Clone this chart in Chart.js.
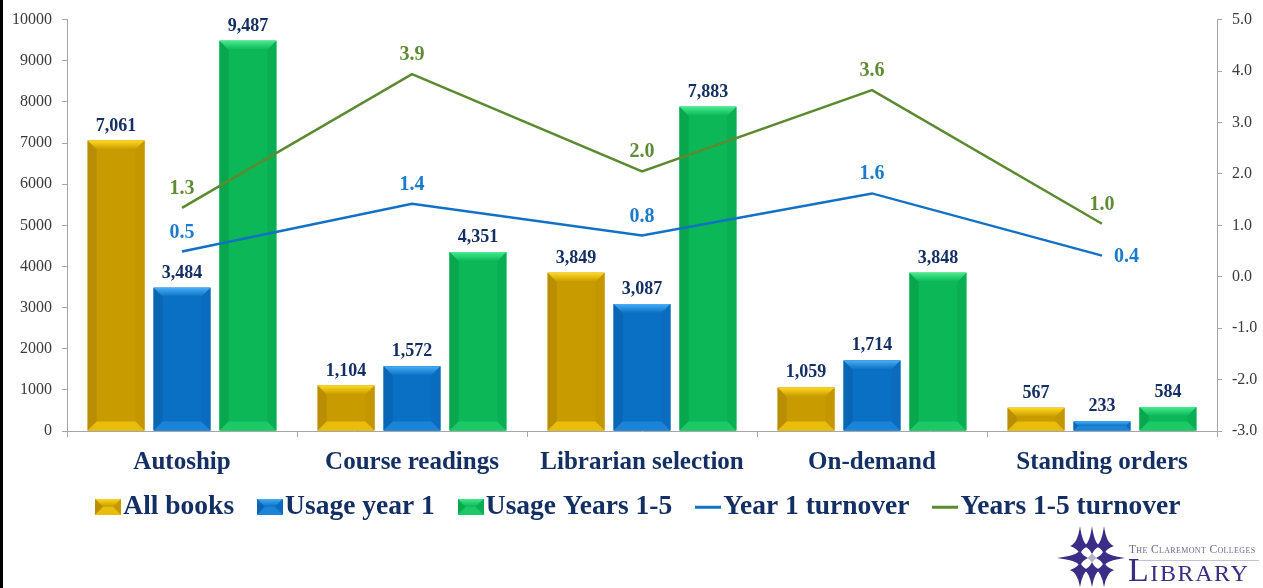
<!DOCTYPE html>
<html>
<head>
<meta charset="utf-8">
<script src="https://cdn.jsdelivr.net/npm/chart.js@4.4.1/dist/chart.umd.min.js"></script>
<style>
html,body{margin:0;padding:0;background:#fff;}
#wrap{position:relative;width:1263px;height:588px;overflow:hidden;background:#fff;}
#c{position:absolute;left:0;top:0;}
#leftbar{position:absolute;left:0;top:0;width:3px;height:588px;background:#000;}
#logo{position:absolute;left:1056px;top:525px;width:207px;height:63px;}
#logo svg{position:absolute;left:0;top:0;}
#logo .t1{position:absolute;left:73px;top:18px;font-family:'Liberation Serif',serif;font-size:11.5px;line-height:13px;font-variant:small-caps;color:#6E6A8A;letter-spacing:0.35px;white-space:nowrap;}
#logo .t2{position:absolute;left:72px;top:28px;font-family:'Liberation Serif',serif;font-size:34px;line-height:34px;font-variant:small-caps;color:#3B2C86;letter-spacing:1.6px;white-space:nowrap;}
#logo .rule{position:absolute;left:73px;top:35px;width:130px;height:1px;background:#C4C0D8;}
</style>
</head>
<body>
<div id="wrap">
  <canvas id="c" width="1263" height="588"></canvas>
  <div id="leftbar"></div>
  <div id="logo">
    <svg id="emblem" width="70" height="63" viewBox="0 0 70 63"></svg>
    <div class="t1">The Claremont Colleges</div>
    <div class="rule"></div>
    <div class="t2">Library</div>
  </div>
</div>
<script>
// ---------- DATA ----------
const categories = ['Autoship', 'Course readings', 'Librarian selection', 'On-demand', 'Standing orders'];
const seriesNames = ['All books', 'Usage year 1', 'Usage Years 1-5', 'Year 1 turnover', 'Years 1-5 turnover'];
const allBooks = [7061, 1104, 3849, 1059, 567];
const usageYear1 = [3484, 1572, 3087, 1714, 233];
const usageYears1to5 = [9487, 4351, 7883, 3848, 584];
const year1Turnover = [0.49, 1.42, 0.80, 1.62, 0.41];
const years1to5Turnover = [1.34, 3.94, 2.05, 3.63, 1.03];
const leftAxis = { min: 0, max: 10000, step: 1000 };
const rightAxis = { min: -3, max: 5, step: 1 };

// ---------- STYLE ----------
const FONT = "'Liberation Serif', 'DejaVu Serif', serif";
const NAVY = '#132F63';
const AXIS_GREY = '#A6A6A6';
const TICK_TEXT = '#3A3A3A';
const LEGEND_SIZE = 27.5;
const LEGEND_SHIFT = 12;
const palettes = {
  gold:  { main: '#C89B00', top: '#FFDA1F', bottom: '#E9BD0C', left: '#B98E04', right: '#C49700' },
  blue:  { main: '#0A70C4', top: '#48AEF4', bottom: '#1C84D6', left: '#0966B5', right: '#0B6CBF' },
  green: { main: '#0BB757', top: '#46EC90', bottom: '#1DC967', left: '#08A64D', right: '#0AAE53' }
};
const lineColors = { blue: '#1271C4', green: '#5B8A30' };
const lineLabelColors = { blue: '#1C7BCB', green: '#5E8B35' };

function drawBevel(ctx, l, t, r, b, pal, bev) {
  const h = b - t, w = r - l;
  const d = Math.max(0, Math.min(bev, h / 2, w / 2));
  ctx.save();
  ctx.fillStyle = pal.main;
  ctx.fillRect(l, t, w, h);
  ctx.fillStyle = pal.left;
  ctx.beginPath(); ctx.moveTo(l, t); ctx.lineTo(l + d, t + d); ctx.lineTo(l + d, b - d); ctx.lineTo(l, b); ctx.closePath(); ctx.fill();
  ctx.fillStyle = pal.right;
  ctx.beginPath(); ctx.moveTo(r, t); ctx.lineTo(r - d, t + d); ctx.lineTo(r - d, b - d); ctx.lineTo(r, b); ctx.closePath(); ctx.fill();
  ctx.fillStyle = pal.bottom;
  ctx.beginPath(); ctx.moveTo(l, b); ctx.lineTo(l + d, b - d); ctx.lineTo(r - d, b - d); ctx.lineTo(r, b); ctx.closePath(); ctx.fill();
  const g = ctx.createLinearGradient(0, t, 0, t + d);
  g.addColorStop(0, pal.top);
  g.addColorStop(1, pal.main);
  ctx.fillStyle = g;
  ctx.beginPath(); ctx.moveTo(l, t); ctx.lineTo(r, t); ctx.lineTo(r - d, t + d); ctx.lineTo(l + d, t + d); ctx.closePath(); ctx.fill();
  ctx.restore();
}

function barIcon(pal) {
  const c = document.createElement('canvas');
  c.width = 26; c.height = 16;
  drawBevel(c.getContext('2d'), 0, 0, 26, 16, pal, 8);
  return c;
}
function lineIcon(color) {
  const c = document.createElement('canvas');
  c.width = 26; c.height = 16;
  const g = c.getContext('2d');
  g.fillStyle = color;
  g.fillRect(0, 7, 26, 3);
  return c;
}
const legendIcons = [barIcon(palettes.gold), barIcon(palettes.blue), barIcon(palettes.green), lineIcon(lineColors.blue), lineIcon(lineColors.green)];

const bevelPlugin = {
  id: 'bevel',
  afterDatasetDraw(chart, args) {
    const ds = chart.data.datasets[args.index];
    if (ds.type !== 'bar') return;
    const meta = chart.getDatasetMeta(args.index);
    const ctx = chart.ctx;
    meta.data.forEach(el => {
      const p = el.getProps(['x', 'y', 'base', 'width'], true);
      const l = p.x - p.width / 2, r = p.x + p.width / 2;
      const t = Math.min(p.y, p.base), b = Math.max(p.y, p.base);
      drawBevel(ctx, l, t, r, b, ds.palette, 9);
    });
  }
};

const labelPlugin = {
  id: 'valueLabels',
  afterDatasetsDraw(chart) {
    const ctx = chart.ctx;
    chart.data.datasets.forEach((ds, i) => {
      const meta = chart.getDatasetMeta(i);
      meta.data.forEach((el, j) => {
        const v = ds.data[j];
        ctx.save();
        if (ds.type === 'bar') {
          ctx.font = `bold 18px ${FONT}`;
          ctx.fillStyle = NAVY;
          ctx.textAlign = 'center';
          ctx.textBaseline = 'alphabetic';
          ctx.fillText(v.toLocaleString('en-US'), el.x, el.y - 10);
        } else {
          ctx.font = `bold 20px ${FONT}`;
          ctx.fillStyle = ds.labelColor;
          const pos = (ds.labelPos && ds.labelPos[j]) || 'above';
          if (pos === 'right') {
            ctx.textAlign = 'left';
            ctx.textBaseline = 'middle';
            ctx.fillText(v.toFixed(1), el.x + 12, el.y + 1);
          } else {
            ctx.textAlign = 'center';
            ctx.textBaseline = 'alphabetic';
            ctx.fillText(v.toFixed(1), el.x, el.y - 14);
          }
        }
        ctx.restore();
      });
    });
  }
};

// nudge the legend row horizontally
const legendShiftPlugin = {
  id: 'legendShift',
  afterLayout(chart) {
    if (chart.legend) { chart.legend.left += LEGEND_SHIFT; chart.legend.right += LEGEND_SHIFT; }
  }
};

const barCommon = { type: 'bar', yAxisID: 'y', borderWidth: 0, categoryPercentage: 0.86, barPercentage: 0.86, order: 2 };
const lineCommon = { type: 'line', yAxisID: 'y2', borderWidth: 2.5, pointRadius: 0, pointHoverRadius: 0, tension: 0, fill: false, order: 1 };

new Chart(document.getElementById('c'), {
  data: {
    labels: categories,
    datasets: [
      Object.assign({}, barCommon, { label: seriesNames[0], data: allBooks, backgroundColor: palettes.gold.main, palette: palettes.gold }),
      Object.assign({}, barCommon, { label: seriesNames[1], data: usageYear1, backgroundColor: palettes.blue.main, palette: palettes.blue }),
      Object.assign({}, barCommon, { label: seriesNames[2], data: usageYears1to5, backgroundColor: palettes.green.main, palette: palettes.green }),
      Object.assign({}, lineCommon, { label: seriesNames[3], data: year1Turnover, borderColor: lineColors.blue, labelColor: lineLabelColors.blue, labelPos: ['above', 'above', 'above', 'above', 'right'] }),
      Object.assign({}, lineCommon, { label: seriesNames[4], data: years1to5Turnover, borderColor: lineColors.green, labelColor: lineLabelColors.green })
    ]
  },
  options: {
    responsive: false,
    animation: false,
    events: [],
    layout: { padding: { top: 16, left: 0, right: 0, bottom: 57.5 } },
    plugins: {
      tooltip: { enabled: false },
      legend: {
        position: 'bottom',
        labels: {
          usePointStyle: true,
          pointStyleWidth: 3,
          boxHeight: 16,
          padding: 15,
          color: NAVY,
          font: { family: FONT, size: LEGEND_SIZE, weight: 'bold' },
          generateLabels(chart) {
            const n = chart.data.datasets.length;
            return chart.data.datasets.map((ds, i) => ({
              text: i < n - 1 ? ds.label + '  \u2009' : ds.label,
              pointStyle: legendIcons[i],
              fillStyle: 'transparent',
              strokeStyle: 'transparent',
              lineWidth: 0,
              hidden: false,
              datasetIndex: i,
              fontColor: NAVY
            }));
          }
        }
      }
    },
    scales: {
      x: {
        type: 'category',
        offset: true,
        afterFit(s) { s.height = 47; },
        grid: { offset: true, drawOnChartArea: false, drawTicks: true, tickLength: 6, color: AXIS_GREY, lineWidth: 1 },
        border: { display: true, color: AXIS_GREY, width: 1 },
        ticks: { color: NAVY, padding: 11, maxRotation: 0, autoSkip: false, font: { family: FONT, size: 25, weight: 'bold' } }
      },
      y: {
        position: 'left',
        min: leftAxis.min, max: leftAxis.max,
        afterFit(s) { s.width = 67; },
        grid: { drawOnChartArea: false, drawTicks: true, tickLength: 5, color: AXIS_GREY },
        border: { display: true, color: AXIS_GREY, width: 1 },
        ticks: { stepSize: leftAxis.step, padding: 10, color: TICK_TEXT, font: { family: FONT, size: 16 }, callback: v => String(v) }
      },
      y2: {
        position: 'right',
        min: rightAxis.min, max: rightAxis.max,
        afterFit(s) { s.width = 46; },
        grid: { drawOnChartArea: false, drawTicks: true, tickLength: 5, color: AXIS_GREY },
        border: { display: true, color: AXIS_GREY, width: 1 },
        ticks: { stepSize: rightAxis.step, padding: 10, color: TICK_TEXT, font: { family: FONT, size: 16 }, callback: v => Number(v).toFixed(1) }
      }
    }
  },
  plugins: [bevelPlugin, labelPlugin, legendShiftPlugin]
});

// ---------- logo emblem ----------
(function () {
  const svg = document.getElementById('emblem');
  const P = '#3B2C86';
  function star(cx, cy, up, right, down, left, w) {
    return `<path d="M${cx},${cy - up} Q${cx + w},${cy - w} ${cx + right},${cy} Q${cx + w},${cy + w} ${cx},${cy + down} Q${cx - w},${cy + w} ${cx - left},${cy} Q${cx - w},${cy - w} ${cx},${cy - up} Z" fill="${P}"/>`;
  }
  const xs = [24, 36, 48], ys = [21, 33, 45];
  let s = '';
  ys.forEach((cy, r) => xs.forEach((cx, c) => {
    if (r === 1 && c === 1) return;
    const up = r === 0 ? 20 : 8, down = r === 2 ? 17 : 8;
    const left = (c === 0 && r === 1) ? 23 : (c === 0 ? 10 : 8);
    const right = (c === 2 && r === 1) ? 21 : (c === 2 ? 10 : 8);
    s += star(cx, cy, up, right, down, left, 2.4);
  }));
  s += `<path d="M36,28.5 L40.5,33 L36,37.5 L31.5,33 Z" fill="#B9B6C6"/>`;
  svg.innerHTML = s;
})();
</script>
</body>
</html>
